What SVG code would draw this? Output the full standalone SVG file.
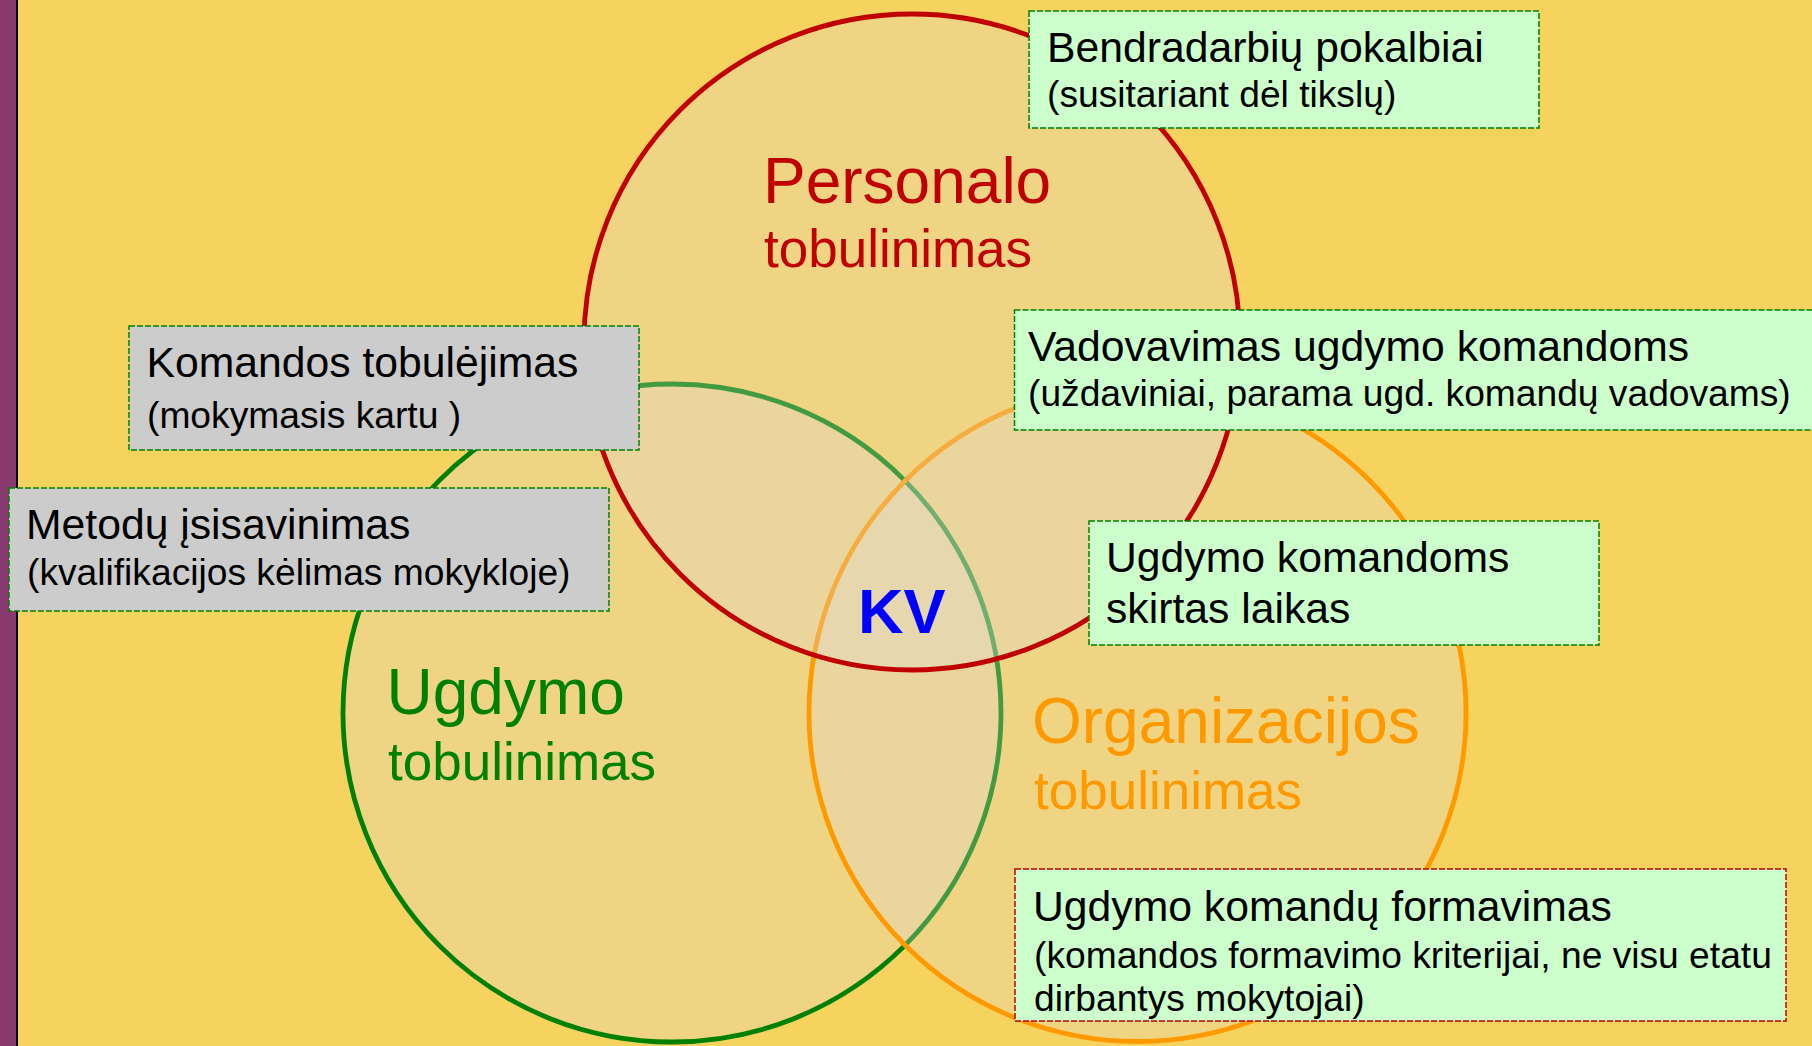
<svg xmlns="http://www.w3.org/2000/svg" width="1812" height="1046" viewBox="0 0 1812 1046">
  <style>
    text { font-family: "Liberation Sans", Arial, sans-serif; }
    .ring { fill: #DDDAD6; fill-opacity: 0.3; stroke-width: 4.8; }
    .box-g { fill: #CCFFCC; stroke: #008000; stroke-width: 1.5; stroke-dasharray: 6 2; }
    .box-gray { fill: #CCCCCC; stroke: #008000; stroke-width: 1.5; stroke-dasharray: 6 2; }
    .box-r { fill: #CCFFCC; stroke: #C00000; stroke-width: 1.5; stroke-dasharray: 6 2; }
    .t1 { font-size: 42.7px; fill: #000000; }
    .t2 { font-size: 37.2px; fill: #000000; }
    .big { font-size: 64px; }
    .sub { font-size: 53px; }
  </style>

  <!-- background -->
  <rect x="0" y="0" width="1812" height="1046" fill="#F6D25F"/>
  <rect x="0" y="0" width="16" height="1046" fill="#893A6E"/>
  <rect x="16" y="0" width="2" height="1046" fill="#000000"/>

  <!-- circles -->
  <g id="ugdymo">
    <circle class="ring" cx="672" cy="713" r="329" stroke="#008000"/>
  </g>
  <g id="organizacijos">
    <circle class="ring" cx="1137.5" cy="713" r="328.5" stroke="#FF9900"/>
  </g>
  <g id="personalo">
    <circle class="ring" cx="912" cy="342" r="328" stroke="#C00000"/>
  </g>

  <!-- circle labels -->
  <g id="label-personalo" fill="#C00000">
    <text x="763" y="203" class="big">Personalo</text>
    <text x="764" y="267" class="sub">tobulinimas</text>
  </g>
  <g id="label-ugdymo" fill="#008000">
    <text x="386.5" y="714" class="big">Ugdymo</text>
    <text x="388" y="780" class="sub">tobulinimas</text>
  </g>
  <g id="label-organizacijos" fill="#FF9900">
    <text x="1032" y="743" class="big">Organizacijos</text>
    <text x="1034" y="809" class="sub">tobulinimas</text>
  </g>
  <g id="kv">
    <text x="858" y="633" font-size="63" font-weight="bold" fill="#0000FF">KV</text>
  </g>

  <!-- connectors (none) -->
  <g id="connectors"></g>

  <!-- note boxes -->
  <g id="bendradarbiu">
    <rect class="box-g" x="1029" y="11" width="510" height="117"/>
    <text class="t1" x="1047" y="62">Bendradarbių pokalbiai</text>
    <text class="t2" x="1047" y="107">(susitariant dėl tikslų)</text>
  </g>
  <g id="komandos">
    <rect class="box-gray" x="129" y="326" width="510" height="124"/>
    <text class="t1" x="146.5" y="377">Komandos tobulėjimas</text>
    <text class="t2" x="147" y="428">(mokymasis kartu )</text>
  </g>
  <g id="metodu">
    <rect class="box-gray" x="9" y="488" width="600" height="123"/>
    <text class="t1" x="26" y="539">Metodų įsisavinimas</text>
    <text class="t2" x="27" y="585">(kvalifikacijos kėlimas mokykloje)</text>
  </g>
  <g id="vadovavimas">
    <rect class="box-g" x="1014.5" y="310" width="810" height="120"/>
    <text class="t1" x="1028" y="361">Vadovavimas ugdymo komandoms</text>
    <text class="t2" x="1028" y="406">(uždaviniai, parama ugd. komandų vadovams)</text>
  </g>
  <g id="laikas">
    <rect class="box-g" x="1089" y="521" width="510" height="124"/>
    <text class="t1" x="1106" y="572">Ugdymo komandoms</text>
    <text class="t1" x="1106" y="623">skirtas laikas</text>
  </g>
  <g id="formavimas">
    <rect class="box-r" x="1015" y="869" width="771" height="152"/>
    <text class="t1" x="1033" y="921">Ugdymo komandų formavimas</text>
    <text class="t2" x="1034" y="968">(komandos formavimo kriterijai, ne visu etatu</text>
    <text class="t2" x="1034" y="1011">dirbantys mokytojai)</text>
  </g>
</svg>
